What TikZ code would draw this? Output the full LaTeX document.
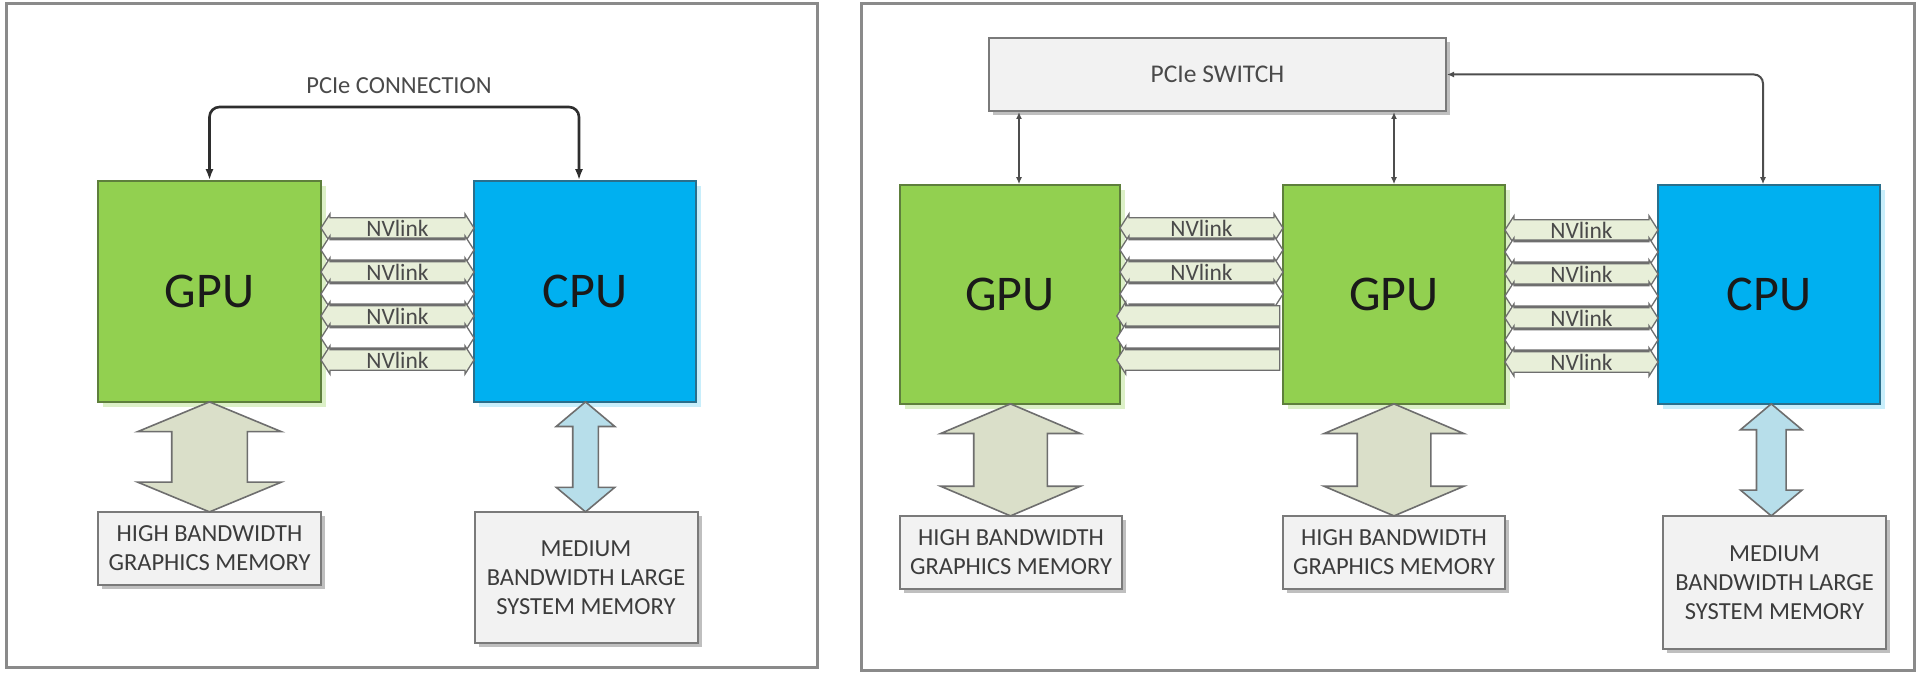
\documentclass[tikz,border=0pt]{standalone}
\usepackage{fontspec}
\setmainfont{Carlito}
\usetikzlibrary{shapes.arrows,shadows,arrows.meta,calc}
\definecolor{gpugreen}{HTML}{92D050}
\definecolor{gpuborder}{HTML}{5E7F3C}
\definecolor{cpublue}{HTML}{00B0F0}
\definecolor{cpuborder}{HTML}{2A6F8C}
\definecolor{nvgreen}{HTML}{E8EFD9}
\definecolor{memarrowgreen}{HTML}{DADFC9}
\definecolor{memarrowblue}{HTML}{B7DEEA}
\definecolor{memfill}{HTML}{F2F2F2}
\definecolor{memborder}{HTML}{7A7A7A}
\definecolor{arrowborder}{HTML}{6E6E6E}
\definecolor{memtext}{HTML}{3C3C3C}
\definecolor{lbltext}{HTML}{4A4A4A}
\definecolor{chiptext}{HTML}{1A1A1A}
\definecolor{framecol}{HTML}{8A8A8A}
\definecolor{linecol}{HTML}{2E2E2E}
\begin{document}
\begin{tikzpicture}[x=1pt,y=-1pt,
  panel/.style={rectangle, draw=framecol, line width=3pt, fill=white, inner sep=0},
  chip/.style={rectangle, line width=1.6pt, inner sep=0, text=chiptext, font=\fontsize{50}{60}\selectfont},
  gpubox/.style={chip, fill=gpugreen, draw=gpuborder, drop shadow={shadow xshift=5pt, shadow yshift=-5pt, fill=gpugreen!45, opacity=.7}},
  cpubox/.style={chip, fill=cpublue, draw=cpuborder, drop shadow={shadow xshift=5pt, shadow yshift=-5pt, fill=cpublue!30, opacity=.7}},
  membox/.style={rectangle, fill=memfill, draw=memborder, line width=2pt, inner sep=0, align=center, text=memtext, font=\fontsize{24.5}{29}\selectfont, drop shadow={shadow xshift=4pt, shadow yshift=-4pt, opacity=.25, fill=black}},
  switchbox/.style={membox, font=\fontsize{25.5}{29}\selectfont, text=lbltext},
  nvlbl/.style={text=lbltext, font=\fontsize{23.5}{26}\selectfont, inner sep=0},
  nvbase/.style={draw=arrowborder, line width=1.3pt, inner xsep=0pt, inner ysep=9.5pt, minimum width=27pt},
  nvg/.style={double arrow, nvbase, minimum height=#1, double arrow head extend=4pt, double arrow tip angle=115, fill=nvgreen},
  nvw/.style={double arrow, nvbase, minimum height=#1, double arrow head extend=4pt, double arrow tip angle=115, fill=white},
  nvgl/.style={single arrow, shape border rotate=180, nvbase, minimum height=#1, single arrow head extend=4pt, single arrow tip angle=115, fill=nvgreen},
  nvwl/.style={single arrow, shape border rotate=180, nvbase, minimum height=#1, single arrow head extend=4pt, single arrow tip angle=115, fill=white},
  memarrow/.style n args={5}{double arrow, rotate=90, draw=arrowborder, line width=1.6pt, inner xsep=0pt, inner ysep=#2, minimum height=#1, minimum width=2*#2+2*#3, double arrow head extend=#3, double arrow tip angle=#4, fill=#5},
  pcieline/.style={draw=linecol, line width=2.6pt, rounded corners=10pt, {Latex[length=11pt,width=8pt]}-{Latex[length=11pt,width=8pt]}},
  swline/.style={draw=linecol!85, line width=2pt, rounded corners=9pt, {Latex[length=7pt,width=6pt]}-{Latex[length=7pt,width=6pt]}},
  lbl/.style={text=lbltext, font=\fontsize{24.5}{28}\selectfont, inner sep=0}
]
\useasboundingbox (0,0) rectangle (1920,676);
\fill[white] (0,0) rectangle (1920,676);

% ---------- panels ----------
\node[panel, minimum width=811pt, minimum height=663pt] (panelL) at (411.5,335.5) {};
\node[panel, minimum width=1053pt, minimum height=666pt] (panelR) at (1387.5,337) {};

% ---------- left panel ----------
\node[gpubox, minimum width=223pt, minimum height=221pt] (gpuL) at (209.5,291.5) {GPU};
\node[cpubox, minimum width=222pt, minimum height=221pt] (cpuL) at (585,291.5) {CPU};
\node[membox, minimum width=223pt, minimum height=73pt] (memGL) at (209.5,548.5) {HIGH BANDWIDTH\\GRAPHICS MEMORY};
\node[membox, minimum width=223pt, minimum height=131pt] (memCL) at (586,577.5) {MEDIUM\\BANDWIDTH LARGE\\SYSTEM MEMORY};

\node[lbl] (pcielbl) at (399,86) {PCIe CONNECTION};
\coordinate (pcieL) at (0,107);
\draw[pcieline] (gpuL.north) -- (gpuL.north |- pcieL) -- ([xshift=-6pt]cpuL.north |- pcieL) -- ([xshift=-6pt]cpuL.north);

\path let \p1=($(gpuL.east)!.5!(cpuL.west)$) in
  node[nvg=153pt, label={[nvlbl]center:NVlink}] (nvL1) at (\x1,228) {}
  node[nvw=153pt] (nvL2) at (\x1,250) {}
  node[nvg=153pt, label={[nvlbl]center:NVlink}] (nvL3) at (\x1,272) {}
  node[nvw=153pt] (nvL4) at (\x1,294) {}
  node[nvg=153pt, label={[nvlbl]center:NVlink}] (nvL5) at (\x1,316) {}
  node[nvw=153pt] (nvL6) at (\x1,338) {}
  node[nvg=153pt, label={[nvlbl]center:NVlink}] (nvL7) at (\x1,360) {};

\node[memarrow={110pt}{37pt}{34pt}{135}{memarrowgreen}] (maGL) at ($(gpuL.south)!.5!(memGL.north)$) {};
\node[memarrow={110pt}{12pt}{16.5pt}{100}{memarrowblue}] (maCL) at ($(cpuL.south)!.5!(memCL.north)$) {};

% ---------- right panel ----------
\node[switchbox, minimum width=457pt, minimum height=73pt] (switch) at (1217.5,74.5) {PCIe SWITCH};
\node[gpubox, minimum width=220pt, minimum height=219pt] (gpu1) at (1010,294.5) {GPU};
\node[gpubox, minimum width=222pt, minimum height=219pt] (gpu2) at (1394,294.5) {GPU};
\node[cpubox, minimum width=222pt, minimum height=219pt] (cpuR) at (1769,294.5) {CPU};
\node[membox, minimum width=222pt, minimum height=73pt] (memG1) at (1011,552.5) {HIGH BANDWIDTH\\GRAPHICS MEMORY};
\node[membox, minimum width=222pt, minimum height=73pt] (memG2) at (1394,552.5) {HIGH BANDWIDTH\\GRAPHICS MEMORY};
\node[membox, minimum width=223pt, minimum height=133pt] (memCR) at (1774.5,582.5) {MEDIUM\\BANDWIDTH LARGE\\SYSTEM MEMORY};

\draw[swline] ([xshift=9pt]gpu1.north) -- ([xshift=9pt]gpu1.north |- switch.south);
\draw[swline] (gpu2.north) -- (gpu2.north |- switch.south);
\draw[swline] (switch.east) -| ([xshift=-6pt]cpuR.north);

\path let \p1=($(gpu1.east)!.5!(gpu2.west)$) in
  node[nvg=163pt, label={[nvlbl]center:NVlink}] (nvA1) at (\x1,228) {}
  node[nvw=163pt] (nvA2) at (\x1,250) {}
  node[nvg=163pt, label={[nvlbl]center:NVlink}] (nvA3) at (\x1,272) {}
  node[nvw=163pt] (nvA4) at (\x1,294) {}
  node[nvgl=163pt] (nvA5) at (\x1,316) {}
  node[nvwl=163pt] (nvA6) at (\x1,338) {}
  node[nvgl=163pt] (nvA7) at (\x1,360) {};

\path let \p1=($(gpu2.east)!.5!(cpuR.west)$) in
  node[nvg=153pt, label={[nvlbl]center:NVlink}] (nvB1) at (\x1,230) {}
  node[nvw=153pt] (nvB2) at (\x1,252) {}
  node[nvg=153pt, label={[nvlbl]center:NVlink}] (nvB3) at (\x1,274) {}
  node[nvw=153pt] (nvB4) at (\x1,296) {}
  node[nvg=153pt, label={[nvlbl]center:NVlink}] (nvB5) at (\x1,318) {}
  node[nvw=153pt] (nvB6) at (\x1,340) {}
  node[nvg=153pt, label={[nvlbl]center:NVlink}] (nvB7) at (\x1,362) {};

\node[memarrow={112pt}{36pt}{33pt}{134}{memarrowgreen}] (maG1) at ($(gpu1.south)!.5!(memG1.north)$) {};
\node[memarrow={112pt}{36pt}{33pt}{134}{memarrowgreen}] (maG2) at ($(gpu2.south)!.5!(memG2.north)$) {};
\node[memarrow={112pt}{14pt}{16pt}{100}{memarrowblue}] (maCR) at ($([xshift=2pt]cpuR.south)!.5!([xshift=-3pt]memCR.north)$) {};
\end{tikzpicture}
\end{document}
